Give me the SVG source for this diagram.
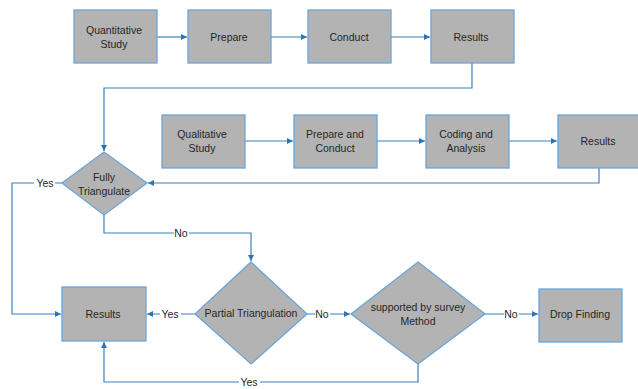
<svg xmlns="http://www.w3.org/2000/svg" width="638" height="389" viewBox="0 0 638 389">
<style>
.n{fill:#b3b3b3;stroke:#6aa5da;stroke-width:1.3}
.t{font-family:"Liberation Sans",Arial,sans-serif;font-size:10.5px;fill:#262626;text-anchor:middle}
.c{fill:none;stroke:#3c80be;stroke-width:1.2}
.l{font-family:"Liberation Sans",Arial,sans-serif;font-size:10.5px;fill:#262626;text-anchor:middle}
.lb{fill:#fff}
</style>
<defs>
<marker id="a" markerWidth="8" markerHeight="8" refX="6" refY="3" orient="auto" markerUnits="userSpaceOnUse">
<path d="M0,0 L6,3 L0,6 Z" fill="#2e75b6"/>
</marker>
</defs>
<rect width="638" height="389" fill="#fff"/>
<g id="connectors">
<path class="c" d="M157,37 H187" marker-end="url(#a)"/>
<path class="c" d="M271,37 H307" marker-end="url(#a)"/>
<path class="c" d="M391,37 H430" marker-end="url(#a)"/>
<path class="c" d="M472,63 V88 H104 V151" marker-end="url(#a)"/>
<path class="c" d="M245,141 H293" marker-end="url(#a)"/>
<path class="c" d="M377,141 H425" marker-end="url(#a)"/>
<path class="c" d="M509,141 H557" marker-end="url(#a)"/>
<path class="c" d="M599,168 V183 H148" marker-end="url(#a)"/>
<path class="c" d="M62,183 H12 V314 H61" marker-end="url(#a)"/>
<path class="c" d="M104,215 V233 H251 V261" marker-end="url(#a)"/>
<path class="c" d="M195,314 H147" marker-end="url(#a)"/>
<path class="c" d="M307,314 H350" marker-end="url(#a)"/>
<path class="c" d="M485,314 H538" marker-end="url(#a)"/>
<path class="c" d="M418,364 V382 H104 V342" marker-end="url(#a)"/>
<rect class="lb" x="34" y="177" width="21" height="12"/>
<text class="l" x="45" y="187">Yes</text>
<rect class="lb" x="174" y="227" width="15" height="12"/>
<text class="l" x="181" y="237">No</text>
<rect class="lb" x="160" y="308" width="21" height="12"/>
<text class="l" x="170" y="318">Yes</text>
<rect class="lb" x="315" y="308" width="15" height="12"/>
<text class="l" x="322" y="318">No</text>
<rect class="lb" x="504" y="308" width="15" height="12"/>
<text class="l" x="511" y="318">No</text>
<rect class="lb" x="239" y="376" width="21" height="12"/>
<text class="l" x="249" y="386">Yes</text>
</g>
<g id="quant">
<rect class="n" x="74" y="10" width="83" height="53"/>
<text class="t" x="114" y="34">Quantitative</text>
<text class="t" x="114" y="48">Study</text>
</g>
<g id="prepare">
<rect class="n" x="188" y="10" width="83" height="53"/>
<text class="t" x="229" y="41">Prepare</text>
</g>
<g id="conduct">
<rect class="n" x="308" y="10" width="83" height="53"/>
<text class="t" x="349" y="41">Conduct</text>
</g>
<g id="results1">
<rect class="n" x="431" y="10" width="83" height="53"/>
<text class="t" x="471" y="41">Results</text>
</g>
<g id="qual">
<rect class="n" x="162" y="115" width="83" height="53"/>
<text class="t" x="202" y="138">Qualitative</text>
<text class="t" x="202" y="152">Study</text>
</g>
<g id="prepcond">
<rect class="n" x="294" y="115" width="83" height="53"/>
<text class="t" x="335" y="138">Prepare and</text>
<text class="t" x="335" y="152">Conduct</text>
</g>
<g id="coding">
<rect class="n" x="426" y="115" width="83" height="53"/>
<text class="t" x="466" y="138">Coding and</text>
<text class="t" x="466" y="152">Analysis</text>
</g>
<g id="results2">
<rect class="n" x="558" y="115" width="83" height="53"/>
<text class="t" x="598" y="145">Results</text>
</g>
<g id="fully">
<polygon class="n" points="104,152 147,183 104,215 62,183"/>
<text class="t" x="104" y="181">Fully</text>
<text class="t" x="104" y="195">Triangulate</text>
</g>
<g id="results3">
<rect class="n" x="62" y="287" width="84" height="54"/>
<text class="t" x="103" y="318">Results</text>
</g>
<g id="partial">
<polygon class="n" points="251,262 307,314 251,364 195,314"/>
<text class="t" x="251" y="317">Partial Triangulation</text>
</g>
<g id="supported">
<polygon class="n" points="418,262 485,314 418,364 351,314"/>
<text class="t" x="418" y="311">supported by survey</text>
<text class="t" x="418" y="325">Method</text>
</g>
<g id="drop">
<rect class="n" x="539" y="289" width="83" height="53"/>
<text class="t" x="580" y="318">Drop Finding</text>
</g>
</svg>
